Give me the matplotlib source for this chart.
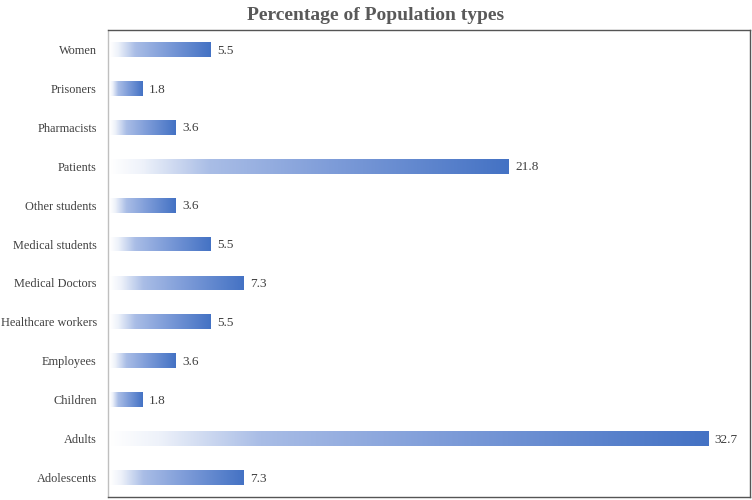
import numpy as np
import matplotlib
matplotlib.use("Agg")
import matplotlib.pyplot as plt
from matplotlib.colors import LinearSegmentedColormap

# Population types (bottom to top as drawn)
categories = ["Adolescents", "Adults", "Children", "Employees", "Healthcare workers",
              "Medical Doctors", "Medical students", "Other students", "Patients",
              "Pharmacists", "Prisoners", "Women"]
values = [7.3, 32.7, 1.8, 3.6, 5.5, 7.3, 5.5, 3.6, 21.8, 3.6, 1.8, 5.5]

plt.rcParams['font.family'] = ['Liberation Serif', 'DejaVu Serif']

# white -> light blue -> office blue, stretched over each bar
grad = LinearSegmentedColormap.from_list(
    "bar_grad", [(0.0, "#ffffff"), (0.08, "#eef2fa"), (0.25, "#a9bde6"),
                 (0.55, "#7f9dd9"), (1.0, "#4472c4")])

fig = plt.figure(figsize=(7.52, 5.0), dpi=100)
ax = fig.add_axes([108 / 752, 3 / 500, 642 / 752, 467 / 500])

y = np.arange(len(categories))
bar_h = 0.38
bars = ax.barh(y, values, height=bar_h, color="none", edgecolor="none")

ramp = np.linspace(0, 1, 256).reshape(1, -1)
for rect, v in zip(bars, values):
    x0, y0 = rect.get_x(), rect.get_y()
    img = ax.imshow(ramp, cmap=grad, aspect="auto", interpolation="bilinear",
                    extent=(x0, x0 + rect.get_width(), y0, y0 + rect.get_height()),
                    origin="lower", zorder=2)
    img.set_clip_path(rect)
    ax.text(v + 0.35, rect.get_y() + bar_h / 2 - 0.03, f"{v:.1f}", va="center", ha="left",
            fontsize=9.5, color="#404040")

ax.set_xlim(-0.1, 35)
ax.set_ylim(-0.5, len(categories) - 0.5)
ax.set_yticks(y)
ax.set_yticklabels(categories, fontsize=8.8, color="#404040")
ax.set_xticks([])
ax.tick_params(axis="y", length=0, pad=8)

for side in ["top", "right", "bottom"]:
    ax.spines[side].set_color("#555555")
    ax.spines[side].set_linewidth(1.0)
ax.spines["left"].set_color("#bfbfbf")
ax.spines["left"].set_linewidth(1.0)

fig.text(0.5, 1 - 15 / 500, "Percentage of Population types", ha="center", va="center",
         fontsize=14, fontweight="bold", color="#595959")

fig.savefig("out.png", dpi=100)
